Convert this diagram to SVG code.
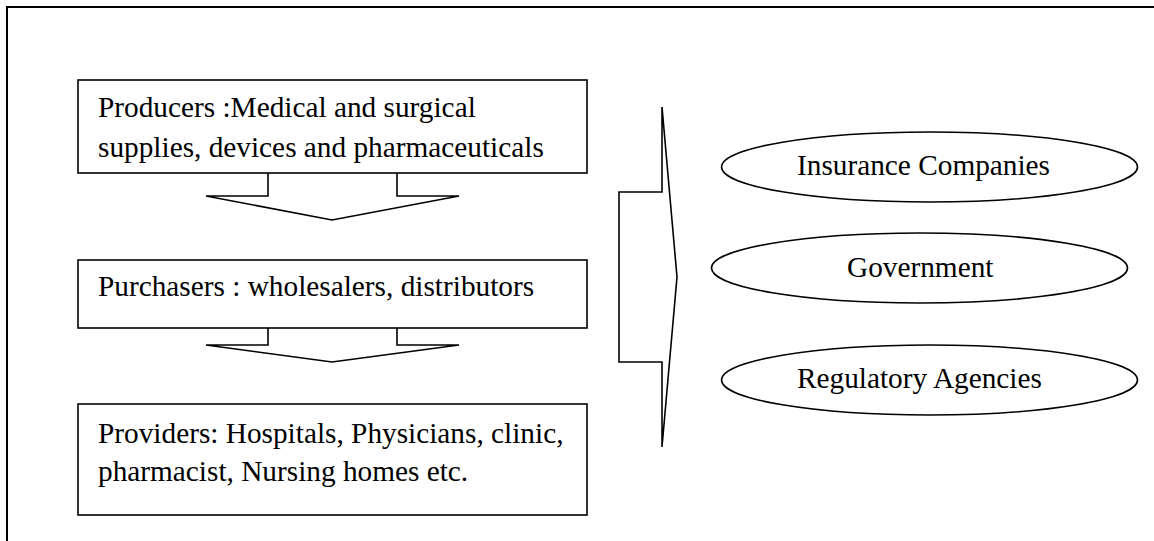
<svg xmlns="http://www.w3.org/2000/svg" width="1154" height="541" viewBox="0 0 1154 541">
<style>
.s{fill:#fff;stroke:#000;stroke-width:1.6}
.t{font-family:"Liberation Serif","Times New Roman",serif;font-size:29.3px;fill:#000}
</style>
<rect width="1154" height="541" fill="#fff"/>
<rect x="7" y="7" width="1170" height="560" fill="none" stroke="#000" stroke-width="2"/>
<g id="connectors">
<polyline class="s" points="268,173 268,196 206,196 332,220 459,196 397,196 397,173"/>
<polyline class="s" points="268,328 268,345 206,345 332,362 459,345 397,345 397,328"/>
<polygon class="s" points="619,192 662,192 662,107 677,277 662,447 662,362 619,362"/>
</g>
<g id="producers">
<rect class="s" x="78" y="80" width="509" height="93"/>
<text class="t" x="98" y="117">Producers :Medical and surgical</text>
<text class="t" x="98" y="156.5">supplies, devices and pharmaceuticals</text>
</g>
<g id="purchasers">
<rect class="s" x="78" y="260" width="509" height="68"/>
<text class="t" x="98" y="296">Purchasers : wholesalers, distributors</text>
</g>
<g id="providers">
<rect class="s" x="78" y="404" width="509" height="111"/>
<text class="t" x="98" y="442.5">Providers: Hospitals, Physicians, clinic,</text>
<text class="t" x="98" y="480.5">pharmacist, Nursing homes etc.</text>
</g>
<g id="insurance">
<ellipse class="s" cx="929.5" cy="167" rx="208" ry="35"/>
<text class="t" x="797" y="175">Insurance Companies</text>
</g>
<g id="government">
<ellipse class="s" cx="919.5" cy="268" rx="208" ry="35"/>
<text class="t" x="847" y="276.5">Government</text>
</g>
<g id="regulatory">
<ellipse class="s" cx="929.5" cy="380" rx="208" ry="35"/>
<text class="t" x="797" y="388">Regulatory Agencies</text>
</g>
</svg>
